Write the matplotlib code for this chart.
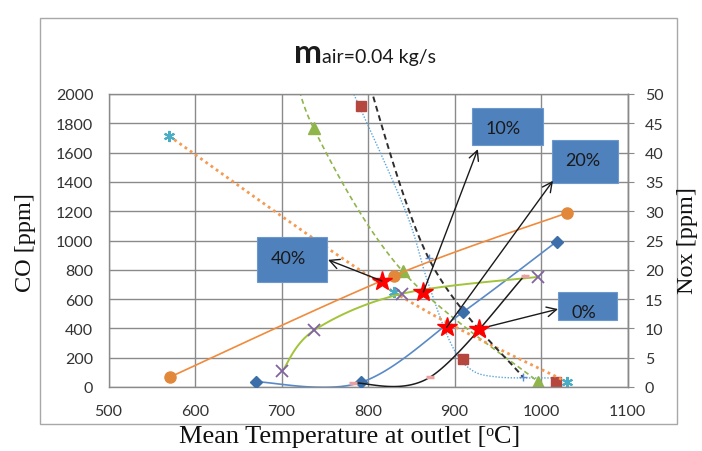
import numpy as np
import matplotlib
matplotlib.use("Agg")
import matplotlib.pyplot as plt
from matplotlib.patches import Rectangle

# ---- data -------------------------------------------------------------
# NOx series (right axis, ppm)
nox_diamond_T = [670, 792, 910, 1018]
nox_diamond = [0.9, 0.8, 12.8, 24.8]

nox_x_T = [701, 738, 839, 997]
nox_x = [2.7, 9.7, 15.9, 18.8]

nox_circle_T = [571, 830, 1030]
nox_circle = [1.7, 19.0, 29.7]

nox_dash_T = [783, 872, 981]
nox_dash = [0.7, 1.7, 19.0]

# CO series (left axis, ppm); values above 2000 run off the top of the axis
co_square_T = [792, 910, 1017]
co_square = [1918, 191, 34]

co_trend_T = [772, 842, 868, 895, 918, 950, 1012]
co_trend = [2150, 1222, 737, 307, 123, 68, 62]

co_triangle_T = [712, 737, 840, 997]
co_triangle = [2300, 1768, 790, 34]

co_star_T = [570, 830, 1030]
co_star = [1713, 648, 34]

co_plus_T = [790, 870, 979]
co_plus = [2300, 880, 68]

# crossover points (NOx scale) and their labels
cross_T = [816, 864, 891, 928]
cross_nox = [18.1, 16.2, 10.2, 9.9]
cross_labels = ["40%", "10%", "20%", "0%"]

x_ticks = [500, 600, 700, 800, 900, 1000, 1100]
co_ticks = list(range(0, 2001, 200))
nox_ticks = list(range(0, 51, 5))


def smooth(xs, ys, n=40):
    """Smoothed line through the points (cubic Bezier, Catmull-Rom tangents)."""
    pts = np.column_stack([xs, ys]).astype(float)
    P = np.vstack([pts[0], pts, pts[-1]])
    out = []
    t = np.linspace(0, 1, n)[:, None]
    for i in range(1, len(P) - 2):
        p0, p1, p2, p3 = P[i - 1], P[i], P[i + 1], P[i + 2]
        c1 = p1 + (p2 - p0) / 6
        c2 = p2 - (p3 - p1) / 6
        seg = (1 - t) ** 3 * p1 + 3 * (1 - t) ** 2 * t * c1 + 3 * (1 - t) * t ** 2 * c2 + t ** 3 * p2
        out.append(seg if i == 1 else seg[1:])
    s = np.vstack(out)
    return s[:, 0], s[:, 1]


W, H = 702, 452
fig = plt.figure(figsize=(W / 100, H / 100), dpi=100)
fig.patch.set_facecolor("white")

def fx(px):
    return px / W

def fy(py):
    return 1 - py / H

ax = fig.add_axes([fx(108.5), fy(388), fx(627.5) - fx(108.5), fy(95) - fy(388)])
ax2 = ax.twinx()

tick_font = dict(family="Lato", size=11.5, color="#333333")
grid_c = "#8a8a8a"

ax.set_xlim(500, 1100)
ax.set_ylim(0, 2000)
ax2.set_ylim(0, 50)
ax.set_xticks(x_ticks)
ax.set_yticks(co_ticks)
ax2.set_yticks(nox_ticks)
ax.set_xticklabels([str(v) for v in x_ticks], fontdict=tick_font)
ax.set_yticklabels([str(v) for v in co_ticks], fontdict=tick_font)
ax2.set_yticklabels([str(v) for v in nox_ticks], fontdict=tick_font)
ax.grid(True, color=grid_c, lw=1.0)
ax.set_axisbelow(True)
ax.tick_params(axis="both", length=0, pad=11)
ax.tick_params(axis="x", pad=12)
ax2.tick_params(axis="y", length=4.5, width=0.8, color=grid_c, pad=8)
for a in (ax, ax2):
    for side, sp in a.spines.items():
        sp.set_color(grid_c)
        sp.set_linewidth(1.0)
ax2.spines["top"].set_visible(False)
ax2.spines["left"].set_visible(False)
ax2.spines["bottom"].set_visible(False)

# ---- CO curves (left axis) ---------------------------------------------
x, y = smooth(co_trend_T, co_trend)
ax.plot(x, y, color="#5aa5dc", lw=1.0, ls=(0, (1, 1.2)))
ax.plot(co_square_T, co_square, ls="none", marker="s", ms=7.5, color="#b5473f")

x, y = smooth(co_triangle_T, co_triangle)
ax.plot(x, y, color="#8fb54b", lw=1.2, ls=(0, (3, 2)))
ax.plot(co_triangle_T, co_triangle, ls="none", marker="^", ms=8, color="#8fb54b")

x, y = smooth(co_star_T, co_star)
ax.plot(x, y, color="#f59a50", lw=2.0, ls=(0, (1, 1.3)))
ax.plot(co_star_T, co_star, ls="none", marker=(6, 2, 0), ms=8, mew=1.5, color="#4bacc6")

x, y = smooth(co_plus_T, co_plus)
ax.plot(x, y, color="#2e2e2e", lw=1.4, ls=(0, (3, 2)))
ax.plot(co_plus_T, co_plus, ls="none", marker="+", ms=6, mew=1.0, color="#5b8fd0")

# ---- NOx curves (right axis) ------------------------------------------
x, y = smooth(nox_circle_T, nox_circle)
ax2.plot(x, y, color="#f08a3c", lw=1.2)
ax2.plot(nox_circle_T, nox_circle, ls="none", marker="o", ms=8, color="#e2883a")

x, y = smooth(nox_diamond_T, nox_diamond)
ax2.plot(x, y, color="#5a8ac6", lw=1.2)
ax2.plot(nox_diamond_T, nox_diamond, ls="none", marker="D", ms=6, color="#3c6eaa")

x, y = smooth(nox_x_T, nox_x)
ax2.plot(x, y, color="#a2c43a", lw=1.4)
ax2.plot(nox_x_T, nox_x, ls="none", marker="x", ms=8, mew=1.3, color="#8064a2")

x, y = smooth(nox_dash_T, nox_dash)
ax2.plot(x, y, color="#1c1c1c", lw=1.1)
ax2.plot(nox_dash_T, nox_dash, ls="none", marker="_", ms=6, mew=2.5, color="#e8a0a0")

# crossover stars
ax2.plot(cross_T, cross_nox, ls="none", marker="*", ms=15, color="#ff0000", mec="#ff0000")

# ---- labelled boxes with arrows ----------------------------------------
# box: (T0, T1, nox0, nox1), label anchor, arrow tip
boxes = [
    ((671.7, 752.6, 17.9, 25.6), (707.5, 22.0), (753.8, 21.7), 0),
    ((920.0, 1002.0, 41.3, 47.6), (956.0, 44.2), (927.0, 40.6), 0),
    ((1012.7, 1089.0, 34.8, 42.2), (1048.5, 38.7), (1013.9, 35.2), 0),
    ((1019.7, 1088.0, 11.4, 16.2), (1049.7, 12.8), (1019.7, 13.3), 8),
]
for (bx, lab_xy, tip, shrink), ct, cn, lab in zip(boxes, cross_T, cross_nox, cross_labels):
    x0, x1, y0, y1 = bx
    ax2.add_patch(Rectangle((x0, y0), x1 - x0, y1 - y0, facecolor="#4f81bd",
                            edgecolor="#6d98cc", lw=0.8, zorder=6, clip_on=False))
    ax2.text(lab_xy[0], lab_xy[1], lab, ha="center", va="center", family="Lato",
             size=13, color="#1a1a1a", zorder=7)
    ax2.annotate("", xy=tip, xytext=(ct, cn),
                 arrowprops=dict(arrowstyle="->,head_length=0.7,head_width=0.35",
                                 color="#1a1a1a", lw=1.0, shrinkA=shrink, shrinkB=0),
                 zorder=8)

# ---- titles and axis labels -------------------------------------------
fig.text(fx(322), fy(63), "m", ha="right", va="baseline", family="Lato",
         size=24, weight="bold", color="#1a1a1a")
fig.text(fx(322.5), fy(63), "air=0.04 kg/s", ha="left", va="baseline", family="Lato",
         size=14, color="#1a1a1a")
serif = "Liberation Serif"
fig.text(fx(25), fy(243), "CO [ppm]", rotation=90, ha="center", va="center",
         family=serif, size=17.5, color="#111111")
fig.text(fx(688), fy(241), "Nox [ppm]", rotation=90, ha="center", va="center",
         family=serif, size=17.5, color="#111111")
fig.text(fx(350), fy(437), "Mean Temperature at outlet [\u1d52C]", ha="center", va="center",
         family=serif, size=19, color="#111111")

# chart frame
fig.patches.append(Rectangle((fx(40), fy(425)), fx(677) - fx(40), fy(19) - fy(425),
                             transform=fig.transFigure, fill=False,
                             edgecolor="#a8a8a8", lw=1.0))

fig.savefig("out.png", dpi=100)
